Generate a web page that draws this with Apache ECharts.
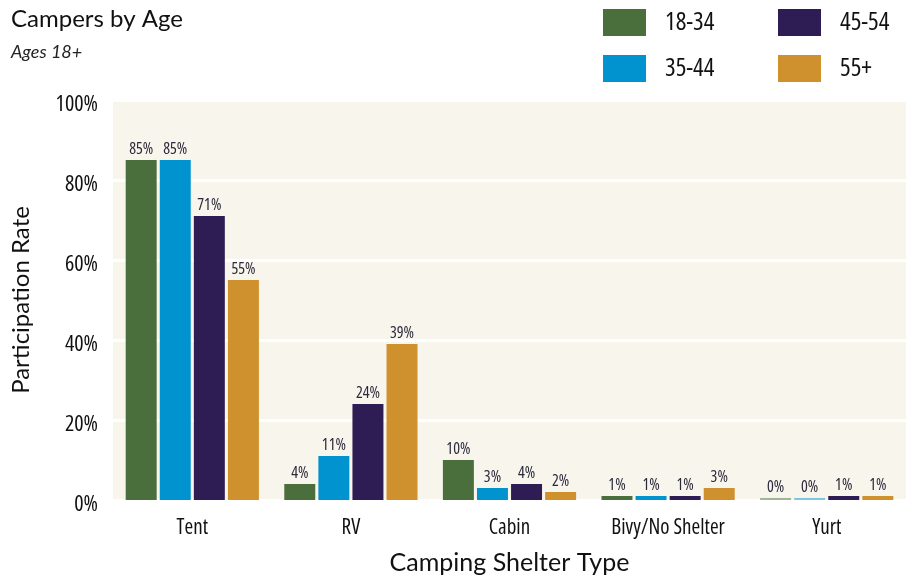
<!DOCTYPE html>
<html>
<head>
<meta charset="utf-8">
<script src="https://cdn.jsdelivr.net/npm/echarts@6/dist/echarts.min.js"></script>
<style>
  html, body { margin: 0; padding: 0; background: #fff; }
  #chart { width: 915px; height: 577px; }
</style>
</head>
<body>
<div id="chart"></div>
<script>
const categories = ['Tent', 'RV', 'Cabin', 'Bivy/No Shelter', 'Yurt'];
const ageGroups = ['18-34', '35-44', '45-54', '55+'];
const age18to34 = [85, 4, 10, 1, 0];
const age35to44 = [85, 11, 3, 1, 0];
const age45to54 = [71, 24, 4, 1, 1];
const age55plus = [55, 39, 2, 3, 1];
const yTicks = [0, 20, 40, 60, 80, 100];

const colors = ['#4a6e3c', '#0093d0', '#2e1c54', '#cf902e'];
const fadedColors = ['rgba(74,110,60,0.5)', 'rgba(0,147,208,0.5)', 'rgba(46,28,84,0.5)', 'rgba(207,144,46,0.5)'];
// condensed face of Open Sans, close to the narrow labels of the original
const narrow = { fontFamily: '"Open Sans"', fontStyle: 'condensed' };
const plain = 'Lato, "Open Sans", sans-serif';

const chart = echarts.init(document.getElementById('chart'));

const makeSeries = (name, values, idx) => ({
  name,
  type: 'bar',
  barGap: '10%',
  barCategoryGap: '16%',
  barMinHeight: 2,
  itemStyle: { color: colors[idx] },
  // zero values show as a faint sliver like the original
  data: values.map(v => v === 0 ? { value: v, itemStyle: { color: fadedColors[idx] } } : v),
  label: {
    show: true,
    position: 'top',
    distance: 3,
    formatter: p => p.value + '%',
    ...narrow,
    fontSize: 16,
    color: '#2a2a3a'
  }
});

const legendBase = {
  orient: 'vertical',
  top: 4,
  itemWidth: 43,
  itemHeight: 27,
  itemGap: 19,
  icon: 'rect',
  textStyle: { ...narrow, fontSize: 25, color: '#111', padding: [0, 0, 0, 14] }
};

const option = {
  animation: false,
  title: {
    text: 'Campers by Age',
    subtext: 'Ages 18+',
    left: 6,
    top: 2,
    itemGap: 12,
    textStyle: { fontFamily: plain, fontSize: 24, fontWeight: 'normal', color: '#111' },
    subtextStyle: { fontFamily: plain, fontSize: 18, fontStyle: 'italic', color: '#222' }
  },
  legend: [
    { ...legendBase, data: ageGroups.slice(0, 2), left: 598 },
    { ...legendBase, data: ageGroups.slice(2), left: 773 }
  ],
  grid: {
    left: 113,
    right: 9,
    top: 100,
    bottom: 77,
    outerBoundsMode: 'none',
    show: true,
    backgroundColor: '#f8f5ec',
    borderWidth: 0
  },
  xAxis: {
    type: 'category',
    data: categories,
    name: 'Camping Shelter Type',
    nameLocation: 'middle',
    nameGap: 50,
    nameTextStyle: { fontFamily: plain, fontSize: 25, color: '#111' },
    axisLine: { show: false },
    axisTick: { show: false },
    axisLabel: { ...narrow, interval: 0, fontSize: 21, color: '#111', margin: 18 }
  },
  yAxis: {
    type: 'value',
    min: 0,
    max: 100,
    interval: 20,
    name: 'Participation Rate',
    nameLocation: 'middle',
    nameGap: 80,
    nameTextStyle: { fontFamily: plain, fontSize: 24, color: '#111' },
    axisLine: { show: false },
    axisTick: { show: false },
    axisLabel: {
      margin: 15,
      // labels sit a few pixels below their grid line in the original
      formatter: v => yTicks.includes(v) ? '{t|' + v + '%}' : '',
      rich: {
        t: { ...narrow, fontSize: 22, color: '#111', padding: [9, 0, 0, 0] }
      }
    },
    splitLine: { lineStyle: { color: '#ffffff', width: 3 } }
  },
  series: [
    makeSeries(ageGroups[0], age18to34, 0),
    makeSeries(ageGroups[1], age35to44, 1),
    makeSeries(ageGroups[2], age45to54, 2),
    makeSeries(ageGroups[3], age55plus, 3)
  ]
};

chart.setOption(option);
</script>
</body>
</html>
